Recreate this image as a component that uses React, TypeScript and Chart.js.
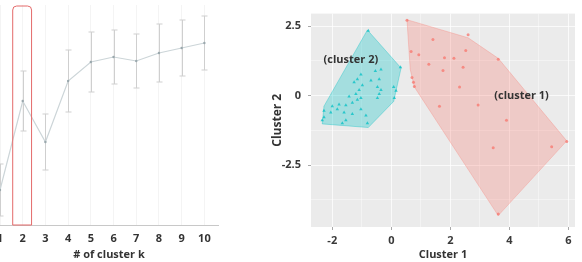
import React, { useEffect, useRef } from "react";
import { Chart, registerables } from "chart.js";
Chart.register(...registerables);

// ---- Left panel: gap statistic ----
const kValues = [1, 2, 3, 4, 5, 6, 7, 8, 9, 10];
const gapValues = [0.435, 0.524, 0.483, 0.544, 0.563, 0.568, 0.564, 0.572, 0.577, 0.582];
const gapSE = [0.026, 0.030, 0.028, 0.031, 0.030, 0.027, 0.027, 0.029, 0.028, 0.027];
const highlightK = 2;
const kAxisTitle = "# of cluster k";

// ---- Right panel: cluster plot ----
const cluster1X = [0.53, 2.60, 1.41, 0.67, 0.93, 1.27, 1.80, 2.12, 2.52, 3.62, 1.75, 2.43, 0.70, 0.75, 0.78, 2.31, 1.63, 2.94, 3.90, 3.45, 5.43, 5.94, 3.62];
const cluster1Y = [2.71, 2.19, 2.02, 1.59, 1.47, 1.13, 1.36, 1.34, 1.62, 1.31, 0.90, 1.02, 0.65, 0.48, 0.33, 0.31, -0.38, -0.34, -0.89, -1.88, -1.84, -1.65, -4.26];
const cluster2X = [-0.78, 0.31, -0.35, -0.54, -1.03, -1.15, -1.26, -0.98, -0.69, -0.41, -0.47, -0.35, -0.41, -0.47, 0.08, 0.16, 0.10, -1.09, -1.20, -1.43, -1.15, -1.32, -1.03, -1.54, -1.77, -2.00, -1.83, -2.05, -2.28, -2.28, -1.60, -1.32, -1.03, -0.86, -1.54, -0.81, -2.34, -1.66];
const cluster2Y = [2.33, 1.02, 0.94, 0.88, 0.76, 0.59, 0.48, 0.37, 0.54, 0.59, 0.31, 0.20, 0.06, -0.09, 0.31, 0.17, -0.09, 0.20, 0.06, -0.03, -0.15, -0.26, -0.09, -0.35, -0.32, -0.38, -0.49, -0.61, -0.55, -0.78, -0.61, -0.66, -0.49, -0.72, -0.89, -1.00, -0.89, -1.00];
const hull1X = [0.53, 2.60, 3.62, 5.94, 3.62, 0.78, 0.64, 0.53];
const hull1Y = [2.73, 2.08, 1.34, -1.63, -4.32, 0.31, 0.94, 2.73];
const hull2X = [-0.81, 0.33, 0.08, -0.78, -2.34, -2.28, -0.81];
const hull2Y = [2.36, 0.99, -0.21, -1.15, -1.02, -0.38, 2.36];
const clusterNames = ["(cluster 1)", "(cluster 2)"];
const clusterNameX = [4.41, -1.37];
const clusterNameY = [0.0, 1.30];
const xTickValues = [-2, -1, 0, 1, 2, 3, 4, 5, 6];
const xMajorTicks = [-2, 0, 2, 4, 6];
const yTickValues = [-3.75, -2.5, -1.25, 0, 1.25, 2.5];
const yMajorTicks = [-2.5, 0, 2.5];
const xTitle = "Cluster 1";
const yTitle = "Cluster 2";

const FONT = "'Open Sans', 'DejaVu Sans', sans-serif";

const toPts = (xs: number[], ys: number[]) => xs.map((x, i) => ({ x, y: ys[i] }));

function GapChart() {
  const ref = useRef<HTMLCanvasElement>(null);
  useEffect(() => {
    const errPlugin = {
      id: "errbars",
      beforeDatasetsDraw(chart: any) {
        const { ctx, scales } = chart;
        const xs = scales.x, ys = scales.y;
        ctx.save();
        ctx.strokeStyle = "#cfcfcf";
        ctx.lineWidth = 1;
        kValues.forEach((k, i) => {
          const px = Math.round(xs.getPixelForValue(k)) + 0.5;
          const top = ys.getPixelForValue(gapValues[i] + gapSE[i]);
          const bot = ys.getPixelForValue(gapValues[i] - gapSE[i]);
          ctx.beginPath();
          ctx.moveTo(px, top); ctx.lineTo(px, bot);
          ctx.moveTo(px - 3, top); ctx.lineTo(px + 3, top);
          ctx.moveTo(px - 3, bot); ctx.lineTo(px + 3, bot);
          ctx.stroke();
        });
        ctx.restore();
      },
      afterDatasetsDraw(chart: any) {
        const { ctx, scales, chartArea } = chart;
        const xs = scales.x;
        const l = xs.getPixelForValue(highlightK - 0.44);
        const r = xs.getPixelForValue(highlightK + 0.39);
        const t = chartArea.top + 1;
        const b = chartArea.bottom;
        ctx.save();
        ctx.strokeStyle = "#e46a6a";
        ctx.lineWidth = 1;
        ctx.beginPath();
        (ctx as any).roundRect(l, t, r - l, b - t, [4, 4, 0, 0]);
        ctx.stroke();
        ctx.restore();
      },
    };
    const chart = new Chart(ref.current!, {
      type: "line",
      data: {
        datasets: [
          {
            data: toPts(kValues, gapValues),
            borderColor: "#ccd5d8",
            borderWidth: 1.2,
            pointRadius: 1.2,
            pointBackgroundColor: "#9aa8ad",
            pointBorderWidth: 0,
            tension: 0,
          },
        ],
      },
      options: {
        animation: false,
        responsive: false,
        maintainAspectRatio: false,
        layout: { padding: { left: 30, top: 5, right: 0, bottom: 0 } },
        plugins: { legend: { display: false }, tooltip: { enabled: false } },
        scales: {
          x: {
            type: "linear",
            min: 1,
            max: 10.6,
            afterBuildTicks: (s: any) => { s.ticks = kValues.map((v) => ({ value: v })); },
            afterFit: (s: any) => { s.height = 37; },
            border: { color: "#c8c8c8" },
            grid: { color: "#f4f4f4", drawTicks: false },
            ticks: { color: "#333", padding: 7, font: { family: FONT, size: 11, weight: "bold" } },
            title: { display: true, text: kAxisTitle, color: "#333", padding: { top: 0, bottom: 1 }, font: { family: FONT, size: 11, weight: "bold" } },
          },
          y: { type: "linear", display: false, min: 0.40, max: 0.62 },
        },
      },
      plugins: [errPlugin],
    } as any);
    return () => chart.destroy();
  }, []);
  return (
    <canvas ref={ref} width={252} height={262}
      style={{ position: "absolute", left: -30, top: 0, width: 252, height: 262 }} />
  );
}

function ClusterChart() {
  const ref = useRef<HTMLCanvasElement>(null);
  useEffect(() => {
    const plug = {
      id: "bgtext",
      beforeDraw(chart: any) {
        const { ctx, chartArea } = chart;
        ctx.save();
        ctx.fillStyle = "#ebebeb";
        ctx.fillRect(chartArea.left, chartArea.top, chartArea.right - chartArea.left, chartArea.bottom - chartArea.top);
        ctx.restore();
      },
      afterDatasetsDraw(chart: any) {
        const { ctx, scales } = chart;
        ctx.save();
        ctx.fillStyle = "#333";
        ctx.font = `bold 11px ${FONT}`;
        ctx.textAlign = "center";
        ctx.textBaseline = "middle";
        clusterNames.forEach((n, i) => {
          ctx.fillText(n, scales.x.getPixelForValue(clusterNameX[i]), scales.y.getPixelForValue(clusterNameY[i]));
        });
        ctx.restore();
      },
    };
    const isMajorX = (v: number) => xMajorTicks.includes(v);
    const isMajorY = (v: number) => yMajorTicks.includes(v);
    const chart = new Chart(ref.current!, {
      type: "scatter",
      data: {
        datasets: [
          {
            type: "line",
            data: toPts(hull1X, hull1Y),
            borderColor: "rgba(248,118,109,0.3)",
            backgroundColor: "rgba(248,118,109,0.28)",
            borderWidth: 1,
            fill: "shape",
            pointRadius: 0,
            tension: 0,
          },
          {
            type: "line",
            data: toPts(hull2X, hull2Y),
            borderColor: "rgba(0,191,196,0.35)",
            backgroundColor: "rgba(0,191,196,0.3)",
            borderWidth: 1,
            fill: "shape",
            pointRadius: 0,
            tension: 0,
          },
          {
            data: toPts(cluster1X, cluster1Y),
            pointStyle: "circle",
            pointRadius: 1.5,
            backgroundColor: "rgba(248,118,109,0.75)",
            borderWidth: 0,
          },
          {
            data: toPts(cluster2X, cluster2Y),
            pointStyle: "triangle",
            pointRadius: 2,
            backgroundColor: "rgba(0,191,196,0.75)",
            borderWidth: 0,
          },
        ],
      },
      options: {
        animation: false,
        responsive: false,
        maintainAspectRatio: false,
        layout: { padding: { left: 0, top: 3, right: 7, bottom: 0 } },
        plugins: { legend: { display: false }, tooltip: { enabled: false } },
        scales: {
          x: {
            type: "linear",
            min: -2.72,
            max: 6.22,
            afterBuildTicks: (s: any) => { s.ticks = xTickValues.map((v) => ({ value: v })); },
            afterFit: (s: any) => { s.height = 35; },
            border: { display: false },
            grid: {
              color: (c: any) => (isMajorX(c.tick?.value) ? "rgba(255,255,255,0.75)" : "rgba(255,255,255,0.4)"),
              tickColor: (c: any) => (isMajorX(c.tick?.value) ? "#a8a8a8" : "rgba(0,0,0,0)"),
              tickLength: 3,
            },
            ticks: {
              color: "#3a3a3a",
              padding: 4,
              autoSkip: false,
              maxRotation: 0,
              font: { family: FONT, size: 11, weight: "bold" },
              callback: (v: any) => (isMajorX(v) ? String(v) : ""),
            },
            title: { display: true, text: xTitle, color: "#333", padding: { top: 0, bottom: 1 }, font: { family: FONT, size: 11, weight: "bold" } },
          },
          y: {
            type: "linear",
            min: -4.73,
            max: 2.95,
            afterBuildTicks: (s: any) => { s.ticks = yTickValues.map((v) => ({ value: v })); },
            afterFit: (s: any) => { s.width = 51; },
            border: { display: false },
            grid: {
              color: (c: any) => (isMajorY(c.tick?.value) ? "rgba(255,255,255,0.75)" : "rgba(255,255,255,0.4)"),
              tickColor: (c: any) => (isMajorY(c.tick?.value) ? "#a8a8a8" : "rgba(0,0,0,0)"),
              tickLength: 3,
            },
            ticks: {
              color: "#3a3a3a",
              padding: 7,
              autoSkip: false,
              font: { family: FONT, size: 11, weight: "bold" },
              callback: (v: any) => (isMajorY(v) ? String(v) : ""),
            },
            title: { display: true, text: yTitle, color: "#333", padding: { top: 10, bottom: 0 }, font: { family: FONT, size: 12, weight: "bold" } },
          },
        },
      },
      plugins: [plug],
    } as any);
    return () => chart.destroy();
  }, []);
  return (
    <canvas ref={ref} width={322} height={262}
      style={{ position: "absolute", left: 260, top: 0, width: 322, height: 262 }} />
  );
}

export default function App() {
  return (
    <div style={{ position: "fixed", left: 0, top: 0, width: 582, height: 262, overflow: "hidden", background: "#fff" }}>
      <GapChart />
      <ClusterChart />
    </div>
  );
}
